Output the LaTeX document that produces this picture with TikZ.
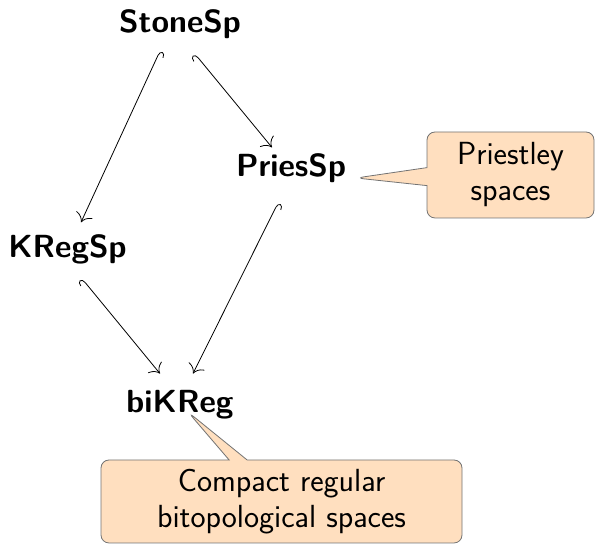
\documentclass[tikz,border=0pt]{standalone}
\usetikzlibrary{arrows.meta,shapes.callouts}
\begin{document}
\begin{tikzpicture}[x=0.5pt,y=-0.5pt,
  obj/.style={font=\sffamily\bfseries\fontsize{16}{18}\selectfont,inner sep=6pt},
  note/.style={rectangle callout,rounded corners=4pt,draw=black!55,fill=orange!25,
    font=\sffamily\fontsize{16}{18}\selectfont,align=center,inner sep=0pt,
    callout pointer width=9pt},
  hookl/.style={{Hooks[right,length=2.5pt,width=6pt]}-{To[scale=1.7]}},
  hookr/.style={{Hooks[left,length=2.5pt,width=6pt]}-{To[scale=1.7]}}]
\useasboundingbox (0,0) rectangle (596,544);
\node[obj] (stone) at (180,24) {StoneSp};
\node[obj] (pries) at (291,168) {PriesSp};
\node[obj] (kreg) at (67.5,249.5) {KRegSp};
\node[obj] (bik) at (180,405) {biKReg};
\coordinate (ptip) at (356,178);
\coordinate (btip) at (188,412);
\node[note,minimum width=83.5pt,minimum height=43pt,callout absolute pointer={(ptip)}] (pnote) at (510.5,175) {Priestley\\spaces};
\node[note,minimum width=180.5pt,minimum height=41.5pt,callout absolute pointer={(btip)}] (bnote) at (281.5,501.5) {Compact regular\\bitopological spaces};
\draw[hookl] ([xshift=-10pt]stone.south) -- ([xshift=6.75pt]kreg.north);
\draw[hookr] ([xshift=7.5pt,yshift=-1.5pt]stone.south) -- ([xshift=-9.5pt,yshift=-3.2pt]pries.north);
\draw[hookr] ([xshift=7.25pt,yshift=-1pt]kreg.south) -- ([xshift=-10pt,yshift=2.3pt]bik.north);
\draw[hookl] ([xshift=-6.5pt,yshift=-4pt]pries.south) -- ([xshift=6.5pt,yshift=2.3pt]bik.north);
\end{tikzpicture}
\end{document}
